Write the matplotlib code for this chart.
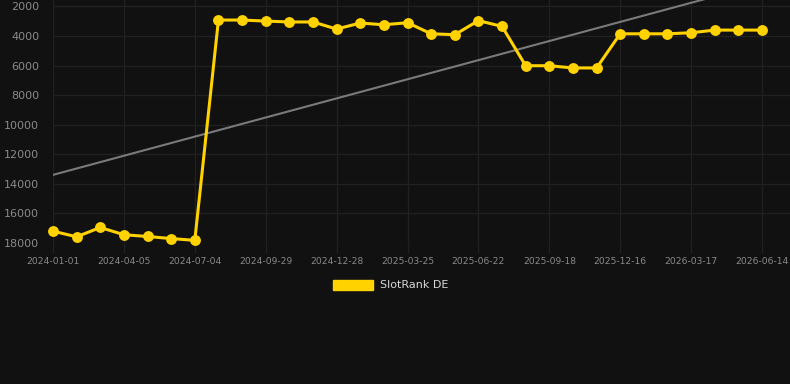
import numpy as np
import matplotlib
matplotlib.use("Agg")
import matplotlib.pyplot as plt
from matplotlib.patches import Patch

# ---- data ----
tick_labels = ["2024-01-01", "2024-04-05", "2024-07-04", "2024-09-29", "2024-12-28",
               "2025-03-25", "2025-06-22", "2025-09-18", "2025-12-16", "2026-03-17",
               "2026-06-14"]
rank_values = [17200, 17580, 16950, 17440, 17560, 17700, 17820,
               2920, 2920, 2990, 3050, 3050, 3530, 3120, 3240, 3100,
               3850, 3910, 2960, 3350, 6010, 6010, 6160, 6160,
               3850, 3850, 3850, 3780, 3600, 3600, 3600]
series_name = "SlotRank DE"
y_ticks = [2000, 4000, 6000, 8000, 10000, 12000, 14000, 16000, 18000]

# ---- style ----
BG = "#111111"
GRID = "#212121"
TXT = "#8a8a8a"
GOLD = "#FFD200"

fig = plt.figure(figsize=(7.9, 3.84), dpi=100, facecolor=BG)
ax = fig.add_axes([53/790, 1 - 243/384, 1 - 53/790, 243/384])
ax.set_facecolor(BG)

x = np.arange(len(rank_values))
y = np.array(rank_values, dtype=float)

# trend line (linear regression)
coef = np.polyfit(x, y, 1)
ax.plot(x, np.polyval(coef, x), color="#7a7a7a", lw=1.5, zorder=2)

ax.plot(x, y, color=GOLD, lw=2.2, marker="o", markersize=6.8,
        markerfacecolor=GOLD, markeredgecolor=GOLD, zorder=3, clip_on=False)

ax.set_xlim(0, (790 - 53) / ((762 - 53) / 30))
ax.set_ylim(18000, 18000 - 2000 * 243 / 29.57)

tick_pos = np.arange(0, len(rank_values), 3)
ax.set_xticks(tick_pos)
ax.set_xticklabels(tick_labels)
ax.set_yticks(y_ticks)
ax.set_yticklabels([str(v) for v in y_ticks])

ax.grid(True, color=GRID, lw=0.9)
ax.set_axisbelow(True)
for s in ax.spines.values():
    s.set_visible(False)

ax.tick_params(axis="x", colors=GRID, length=7, width=0.9, labelsize=6.6,
               labelcolor=TXT, pad=3)
ax.tick_params(axis="y", length=0, labelsize=8, labelcolor=TXT, pad=10)

handle = Patch(facecolor=GOLD, edgecolor=GOLD)
leg = fig.legend([handle], [series_name], loc="center",
                 bbox_to_anchor=((790/2 - 4) / 790, 1 - 285/384),
                 frameon=False, fontsize=8, labelcolor="#d8d8d8",
                 handlelength=3.6, handleheight=1.0, handletextpad=0.6)

fig.savefig("out.png", dpi=100, facecolor=BG)
